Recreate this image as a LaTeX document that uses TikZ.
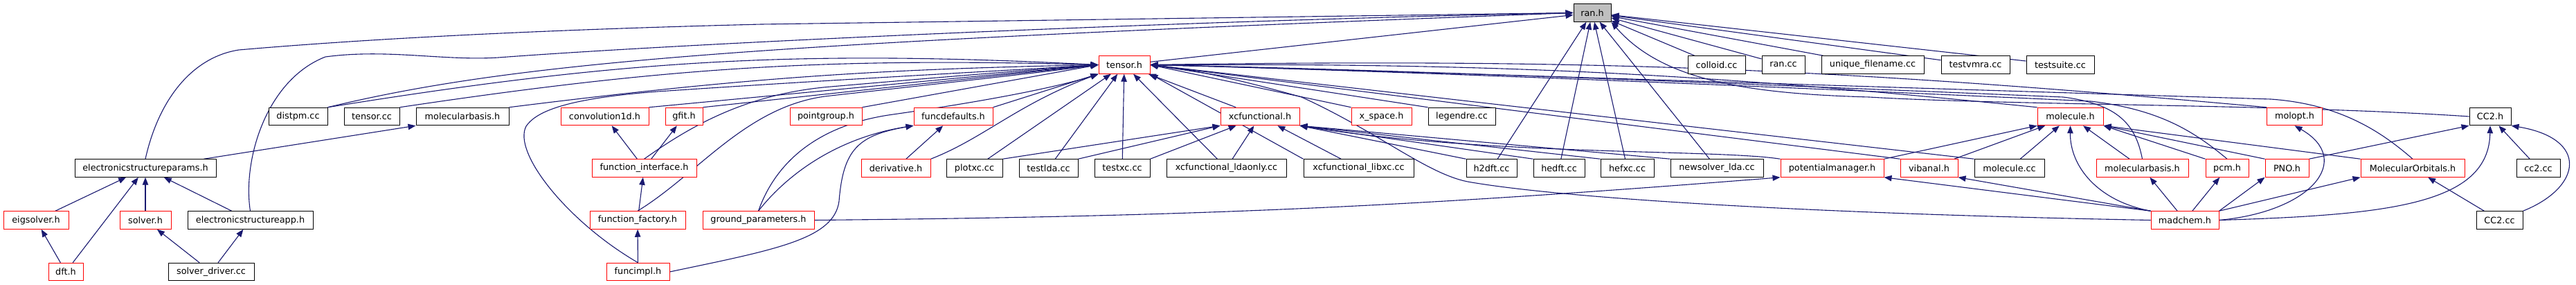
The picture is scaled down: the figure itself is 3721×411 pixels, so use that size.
\documentclass[tikz,border=0pt]{standalone}
\usepackage{fontspec}
\setmainfont{DejaVu Sans}
\usetikzlibrary{arrows.meta}

\definecolor{edgeblue}{HTML}{191970}
\definecolor{boxred}{HTML}{FF0000}
\definecolor{rootgray}{HTML}{BFBFBF}

\pgfdeclarelayer{background}
\pgfsetlayers{background,main}

\begin{document}
\begin{tikzpicture}[x=0.5pt, y=-0.5pt, every node/.style={font=\fontsize{6.4}{7.5}\selectfont}, boxw/.style={minimum width=#1*0.5pt}]
\tikzstyle{filebox} = [rectangle, draw=black, line width=0.5pt, minimum height=12.75pt, inner sep=0pt, text centered, fill=white]
\tikzstyle{redbox} = [filebox, draw=boxred]
\tikzstyle{rootbox} = [filebox, fill=rootgray]
\tikzstyle{incl} = [draw=edgeblue, line width=0.55pt, -{Triangle[length=5.5pt,width=4.2pt]}]

\useasboundingbox (0,0) rectangle (3721,411);

% Row 0 - the root
\node (ran) [rootbox, boxw=54] at (2300,18.5) {ran.h};

% Row 1
\node (tensorh) [redbox, boxw=74] at (1624,93.5) {tensor.h};
\node (colloid) [filebox, boxw=83] at (2479.5,93.5) {colloid.cc};
\node (rancc) [filebox, boxw=62] at (2576,93.5) {ran.cc};
\node (uniq) [filebox, boxw=148] at (2705,93.5) {unique\_filename.cc};
\node (testvmra) [filebox, boxw=99] at (2853.5,93.5) {testvmra.cc};
\node (testsuite) [filebox, boxw=98] at (2976,93.5) {testsuite.cc};

% Row 2
\node (distpm) [filebox, boxw=85] at (430.5,168) {distpm.cc};
\node (tensorcc) [filebox, boxw=80] at (537,168) {tensor.cc};
\node (molbasis) [filebox, boxw=134] at (668,168) {molecularbasis.h};
\node (conv1d) [redbox, boxw=127] at (873.5,168) {convolution1d.h};
\node (gfit) [redbox, boxw=54] at (988,168) {gfit.h};
\node (pointgroup) [redbox, boxw=104] at (1193,168) {pointgroup.h};
\node (funcdefaults) [redbox, boxw=114] at (1377,168) {funcdefaults.h};
\node (xcfunh) [redbox, boxw=114] at (1820,168) {xcfunctional.h};
\node (xspace) [redbox, boxw=87] at (1995.5,168) {x\_space.h};
\node (legendre) [filebox, boxw=97] at (2111.5,168) {legendre.cc};
\node (moleculeh) [redbox, boxw=95] at (2990.5,168) {molecule.h};
\node (molopt) [redbox, boxw=80] at (3314.5,168) {molopt.h};
\node (cc2h) [filebox, boxw=60] at (3597,168) {CC2.h};

% Row 3
\node (esp) [filebox, boxw=204] at (210,242.5) {electronicstructureparams.h};
\node (funcif) [redbox, boxw=151] at (930.5,242.5) {function\_interface.h};
\node (derivative) [redbox, boxw=100] at (1294,242.5) {derivative.h};
\node (plotxc) [filebox, boxw=81] at (1407.5,242.5) {plotxc.cc};
\node (testlda) [filebox, boxw=85] at (1514.5,242.5) {testlda.cc};
\node (testxc) [filebox, boxw=80] at (1621,242.5) {testxc.cc};
\node (xcldaonly) [filebox, boxw=173] at (1771.5,242.5) {xcfunctional\_ldaonly.cc};
\node (xclibxc) [filebox, boxw=159] at (1962.5,242.5) {xcfunctional\_libxc.cc};
\node (h2dft) [filebox, boxw=73] at (2154.5,242.5) {h2dft.cc};
\node (hedft) [filebox, boxw=74] at (2252,242.5) {hedft.cc};
\node (hefxc) [filebox, boxw=77] at (2350.5,242.5) {hefxc.cc};
\node (newsolver) [filebox, boxw=134] at (2480,242.5) {newsolver\_lda.cc};
\node (potmgr) [redbox, boxw=149] at (2646.5,242.5) {potentialmanager.h};
\node (vibanal) [redbox, boxw=83] at (2786.5,242.5) {vibanal.h};
\node (moleculecc) [filebox, boxw=101] at (2902.5,242.5) {molecule.cc};
\node (molbasisred) [redbox, boxw=133] at (3094.5,242.5) {molecularbasis.h};
\node (pcm) [redbox, boxw=62] at (3217,242.5) {pcm.h};
\node (pno) [redbox, boxw=63] at (3303.5,242.5) {PNO.h};
\node (molorb) [redbox, boxw=150] at (3485,242.5) {MolecularOrbitals.h};
\node (cc2cc) [filebox, boxw=63] at (3666.5,242.5) {cc2.cc};

% Row 4
\node (eigsolver) [redbox, boxw=94] at (52,317.5) {eigsolver.h};
\node (solverh) [redbox, boxw=74] at (210,317.5) {solver.h};
\node (esapp) [filebox, boxw=181] at (361.5,317.5) {electronicstructureapp.h};
\node (funcfact) [redbox, boxw=138] at (921,317.5) {function\_factory.h};
\node (groundp) [redbox, boxw=161] at (1095.5,317.5) {ground\_parameters.h};
\node (madchem) [redbox, boxw=98] at (3156,317.5) {madchem.h};
\node (cc2big) [filebox, boxw=67] at (3610.5,317.5) {CC2.cc};

% Row 5
\node (dft) [redbox, boxw=50] at (95,392) {dft.h};
\node (solverdriver) [filebox, boxw=124] at (305,392) {solver\_driver.cc};
\node (funcimpl) [redbox, boxw=91] at (921.5,392) {funcimpl.h};

\begin{pgfonlayer}{background}
% Edges into ran.h
\draw [incl] (tensorh) -- (ran);
\draw [incl] (esp.north) .. controls (230,140) and (280,82) .. (345,72) .. controls (600,50) and (900,40) .. (1100,35) -- (ran.west);
\draw [incl] (esapp.north) .. controls (350,230) and (385,115) .. (470,82) .. controls (560,70) and (640,88) .. (720,83) .. controls (1000,62) and (1700,30) .. (ran.west);
\draw [incl] (distpm.north east) .. controls (750,88) and (1100,62) .. (ran.west);
\foreach \src in {colloid, rancc, uniq, testvmra, testsuite}
  \draw [incl] (\src) -- (ran);
\foreach \src in {h2dft, hedft, hefxc, newsolver}
  \draw [incl] (\src) -- (ran);
\draw [incl] (cc2h.west) .. controls (3300,150) and (2900,152) .. (2700,140) .. controls (2520,135) and (2400,115) .. (ran.south east);

% Edges into tensor.h, left side
\draw [incl] (distpm.north east) to[bend left=6] (tensorh.west);
\draw [incl] (tensorcc.north east) to[bend left=5] (tensorh.west);
\draw [incl] (molbasis.north east) to[bend left=3] (tensorh.west);
\draw [incl] (conv1d.north east) -- (tensorh.west);
\draw [incl] (gfit.north east) -- (tensorh.west);
\draw [incl] (funcif.north) .. controls (1000,180) and (1080,135) .. (1200,125) .. controls (1350,112) and (1500,100) .. (tensorh.west);
\draw [incl] (funcfact.north) .. controls (1010,250) and (1080,150) .. (1200,138) .. controls (1380,118) and (1500,105) .. (tensorh.west);
\draw [incl] (funcimpl.north) .. controls (820,320) and (740,220) .. (760,182) .. controls (775,160) and (820,142) .. (950,132) .. controls (1200,115) and (1450,102) .. (tensorh.west);
\draw [incl] (pointgroup.north east) -- (tensorh.west);
\draw [incl] (funcdefaults.north east) -- (tensorh.south west);
\draw [incl] (derivative.north east) .. controls (1420,200) and (1470,150) .. (tensorh.south west);
\draw [incl] (groundp.north) .. controls (1120,235) and (1180,180) .. (1290,165) .. controls (1430,145) and (1530,125) .. (tensorh.south west);
\foreach \src in {plotxc, testlda, testxc, xcldaonly, xcfunh}
  \draw [incl] (\src) -- (tensorh);
\draw [incl] (xclibxc.north west) -- (tensorh.south east);

% Edges into tensor.h, right side
\draw [incl] (xspace.north west) -- (tensorh.east);
\draw [incl] (legendre.north west) -- (tensorh.east);
\draw [incl] (vibanal.north west) -- (tensorh.east);
\draw [incl] (moleculecc.north west) -- (tensorh.east);
\draw [incl] (moleculeh.north west) to[bend right=3] (tensorh.east);
\draw [incl] (molopt.north west) to[bend right=3] (tensorh.east);
\draw [incl] (molbasisred.north) .. controls (3085,180) and (3060,150) .. (2980,140) .. controls (2500,120) and (2000,100) .. (tensorh.east);
\draw [incl] (pcm.north) .. controls (3170,190) and (3120,158) .. (3020,146) .. controls (2500,122) and (2000,102) .. (tensorh.east);
\draw [incl] (molorb.north) .. controls (3440,190) and (3380,150) .. (3280,143) .. controls (2600,122) and (2000,102) .. (tensorh.east);
\draw [incl] (madchem.west) .. controls (2600,308) and (2250,285) .. (2120,262) .. controls (2060,250) and (1990,190) .. (1880,140) .. controls (1780,112) and (1720,100) .. (tensorh.east);

% Edges into xcfunctional.h
\foreach \src in {plotxc, testlda}
  \draw [incl] (\src.north east) -- (xcfunh.south west);
\draw [incl] (testxc.north east) -- (xcfunh);
\draw [incl] (xcldaonly) -- (xcfunh);
\draw [incl] (xclibxc) -- (xcfunh);
\foreach \src in {h2dft, hedft, hefxc, newsolver}
  \draw [incl] (\src.north west) -- (xcfunh.south east);
\draw [incl] (potmgr.north west) .. controls (2480,215) and (2150,225) .. (xcfunh.south east);

% Left cluster
\draw [incl] (esp) -- (molbasis.south west);
\foreach \src in {eigsolver, solverh, esapp, dft}
  \draw [incl] (\src) -- (esp);
\draw [incl] (dft) -- (eigsolver);
\draw [incl] (solverdriver) -- (solverh);
\draw [incl] (solverdriver) -- (esapp);
\draw [incl] (funcif) -- (conv1d);
\draw [incl] (funcif) -- (gfit);
\draw [incl] (funcfact) -- (funcif);
\draw [incl] (funcimpl) -- (funcfact);
\draw [incl] (funcimpl.east) .. controls (1120,360) and (1205,345) .. (1212,290) .. controls (1218,215) and (1240,195) .. (funcdefaults.south west);
\draw [incl] (groundp.north) .. controls (1130,260) and (1200,200) .. (funcdefaults.south west);
\draw [incl] (derivative) -- (funcdefaults);
\draw [incl] (groundp.east) to[bend right=2] (potmgr.south west);

% Right cluster
\foreach \src in {moleculecc, vibanal, molbasisred}
  \draw [incl] (\src) -- (moleculeh);
\draw [incl] (potmgr.north east) -- (moleculeh.south west);
\foreach \src in {pcm, pno, molorb}
  \draw [incl] (\src.north west) -- (moleculeh.south east);
\draw [incl] (madchem.north west) .. controls (3030,290) and (2990,240) .. (moleculeh.south);
\draw [incl] (madchem.north west) -- (potmgr.south east);
\draw [incl] (madchem.north west) -- (vibanal.south east);
\draw [incl] (madchem) -- (molbasisred);
\draw [incl] (madchem) -- (pcm);
\draw [incl] (madchem.north east) -- (pno.south west);
\draw [incl] (madchem.north east) -- (molorb.south west);
\draw [incl] (madchem.east) .. controls (3340,305) and (3400,230) .. (molopt.south);
\draw [incl] (madchem.east) .. controls (3450,310) and (3595,295) .. (cc2h.south);
\draw [incl] (pno.north east) -- (cc2h.south west);
\draw [incl] (cc2cc) -- (cc2h);
\draw [incl] (cc2big) -- (molorb);
\draw [incl] (cc2big.north east) .. controls (3730,270) and (3740,200) .. (cc2h.south east);
\end{pgfonlayer}

\end{tikzpicture}
\end{document}
